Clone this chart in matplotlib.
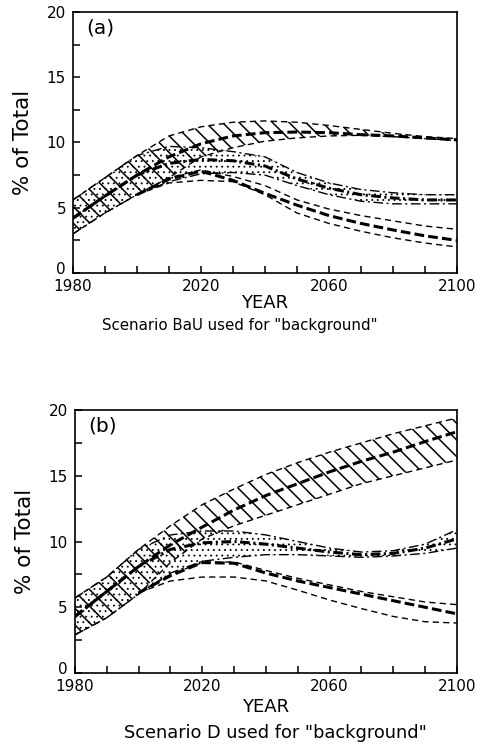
import matplotlib
matplotlib.use("Agg")
import matplotlib.pyplot as plt
import matplotlib.transforms as mtransforms
import numpy as np

# years sampled every 10 years
years = np.arange(1980, 2101, 10)
years_c = np.arange(2000, 2101, 10)

# panel (a): Scenario BaU background
a_hatch_hi = [5.6, 7.3, 9.0, 10.5, 11.2, 11.55, 11.65, 11.55, 11.3, 11.0, 10.7, 10.45, 10.3]
a_hatch_mid = [4.2, 5.9, 7.5, 8.9, 9.9, 10.5, 10.75, 10.8, 10.75, 10.6, 10.5, 10.35, 10.2]
a_hatch_lo = [3.0, 4.6, 6.0, 7.3, 8.9, 9.6, 10.1, 10.35, 10.5, 10.55, 10.45, 10.3, 10.15]
a_dot_hi = [5.6, 7.3, 9.0, 9.7, 9.6, 9.3, 8.9, 7.7, 6.9, 6.4, 6.15, 6.0, 6.0]
a_dot_mid = [4.2, 5.9, 7.5, 8.4, 8.7, 8.6, 8.2, 7.2, 6.5, 6.0, 5.75, 5.6, 5.6]
a_dot_lo = [3.0, 4.6, 6.0, 7.0, 7.6, 7.7, 7.5, 6.7, 6.0, 5.5, 5.3, 5.3, 5.3]
a_low_hi = [6.0, 7.3, 7.9, 7.4, 6.7, 5.6, 4.9, 4.4, 4.0, 3.6, 3.35]
a_low_mid = [6.0, 7.2, 7.8, 7.1, 6.1, 5.2, 4.4, 3.8, 3.3, 2.85, 2.5]
a_low_lo = [6.0, 6.9, 7.1, 7.0, 6.0, 4.6, 3.8, 3.2, 2.7, 2.3, 2.0]

# panel (b): Scenario D background
b_hatch_hi = [5.7, 7.3, 9.4, 11.2, 12.8, 14.0, 15.1, 16.0, 16.8, 17.5, 18.2, 18.8, 19.4]
b_hatch_mid = [4.3, 6.2, 8.1, 9.75, 11.1, 12.4, 13.5, 14.4, 15.3, 16.1, 16.8, 17.6, 18.35]
b_hatch_lo = [2.9, 4.2, 6.0, 8.4, 10.2, 11.2, 12.0, 12.8, 13.6, 14.4, 15.0, 15.6, 16.2]
b_dot_hi = [5.7, 7.3, 9.4, 10.5, 10.8, 10.8, 10.5, 10.0, 9.5, 9.2, 9.3, 9.8, 10.9]
b_dot_mid = [4.3, 6.2, 8.1, 9.4, 9.9, 10.0, 9.8, 9.5, 9.2, 9.0, 9.1, 9.5, 10.2]
b_dot_lo = [2.9, 4.2, 6.0, 7.6, 8.5, 8.8, 9.0, 9.0, 8.9, 8.8, 8.9, 9.1, 9.5]
b_low_hi = [6.1, 7.5, 8.4, 8.45, 7.8, 7.2, 6.7, 6.2, 5.8, 5.4, 5.2]
b_low_mid = [6.1, 7.4, 8.4, 8.35, 7.6, 7.0, 6.5, 6.0, 5.5, 5.0, 4.5]
b_low_lo = [6.1, 7.0, 7.3, 7.3, 7.0, 6.3, 5.55, 4.9, 4.3, 3.9, 3.8]

plt.rcParams['lines.scale_dashes'] = False

THICK = (7, 3)
THIN = (4.5, 3)
DASHDOT = (7, 2.5, 1.5, 2.5)


def draw_panel(fig, ax, data, tag, scenario, sc_pos, sc_size, xpad):
    (h_hi, h_mid, h_lo, d_hi, d_mid, d_lo, l_hi, l_mid, l_lo) = data

    with plt.rc_context({'hatch.linewidth': 0.6}):
        ax.fill_between(years, d_lo, d_hi, facecolor='none',
                        edgecolor='black', hatch='...', linewidth=0)
    with plt.rc_context({'hatch.linewidth': 1.1}):
        ax.fill_between(years, h_lo, h_hi, facecolor='none',
                        edgecolor='black', hatch='\\\\', linewidth=0)

    for vals in (h_hi, h_lo):
        ax.plot(years, vals, color='black', lw=1.0, dashes=THIN)
    ax.plot(years, h_mid, color='black', lw=2.2, dashes=THICK)

    for vals in (d_hi, d_lo):
        ax.plot(years, vals, color='black', lw=1.0, dashes=DASHDOT)
    ax.plot(years, d_mid, color='black', lw=2.2, dashes=DASHDOT)

    for vals in (l_hi, l_lo):
        ax.plot(years_c, vals, color='black', lw=1.0, dashes=THIN)
    ax.plot(years_c, l_mid, color='black', lw=2.2, dashes=THICK)

    ax.set_xlim(1980, 2100)
    ax.set_ylim(0, 20)
    ax.set_xticks(np.arange(1980, 2101, 40))
    ax.set_xticks(np.arange(1980, 2101, 10), minor=True)
    ax.set_yticks([0, 5, 10, 15, 20])
    ax.set_yticks(np.arange(0, 20.1, 2.5), minor=True)
    ax.tick_params(which='both', direction='in', length=5, width=1.1,
                   labelsize=11, top=False, right=False)
    ax.tick_params(axis='x', pad=4)
    ax.tick_params(axis='y', pad=5)
    for s in ax.spines.values():
        s.set_linewidth(1.2)

    # the "0" label sits a little above the corner in the original
    up = mtransforms.ScaledTranslation(0, 5 / 100, fig.dpi_scale_trans)
    zero = ax.get_yticklabels()[0]
    zero.set_transform(zero.get_transform() + up)

    ax.set_ylabel('% of Total', fontsize=15.5, labelpad=10)
    ax.set_xlabel('YEAR', fontsize=13, labelpad=xpad)
    ax.text(0.035, 0.975, tag, transform=ax.transAxes, fontsize=14.5,
            ha='left', va='top')
    ax.text(sc_pos[0], sc_pos[1], scenario, transform=ax.transAxes,
            fontsize=sc_size, ha='center', va='center')


def main():
    fig = plt.figure(figsize=(4.8, 7.44), dpi=100)
    ax_a = fig.add_axes([0.152, 0.633, 0.800, 0.351])
    ax_b = fig.add_axes([0.156, 0.0954, 0.796, 0.3535])

    draw_panel(fig, ax_a, (a_hatch_hi, a_hatch_mid, a_hatch_lo,
                           a_dot_hi, a_dot_mid, a_dot_lo,
                           a_low_hi, a_low_mid, a_low_lo),
               '(a)', 'Scenario BaU used for "background"',
               (0.435, -0.20), 10.8, 0)
    draw_panel(fig, ax_b, (b_hatch_hi, b_hatch_mid, b_hatch_lo,
                           b_dot_hi, b_dot_mid, b_dot_lo,
                           b_low_hi, b_low_mid, b_low_lo),
               '(b)', 'Scenario D used for "background"',
               (0.526, -0.228), 12.8, 3)

    fig.savefig('out.png', dpi=100)


if __name__ == "__main__":
    main()
